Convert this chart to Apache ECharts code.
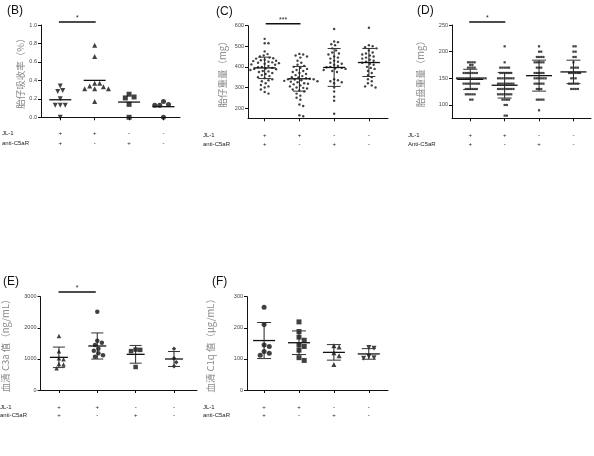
<!DOCTYPE html>
<html><head><meta charset="utf-8">
<script src="https://cdn.jsdelivr.net/npm/echarts@6/dist/echarts.min.js"></script>
<style>html,body{margin:0;padding:0;background:#fff}#c{width:594px;height:456px}</style>
</head><body><div id="c"></div>
<script>
// ---------- data ----------
const jlSigns = ['+', '+', '-', '-'];
const c5Signs = ['+', '-', '+', '-'];

// (B) 胎仔吸收率 (%)
const bG1 = [0.29, 0.28, 0.34, 0.20, 0.13, 0.13, 0.13, 0.00];
const bG2 = [0.78, 0.66, 0.37, 0.37, 0.34, 0.33, 0.31, 0.31, 0.31, 0.17];
const bG3 = [0.25, 0.22, 0.21, 0.14, 0.00];
const bG4 = [0.17, 0.14, 0.13, 0.13, 0.00];
const bMeans = [0.19, 0.40, 0.165, 0.115];
const bTicks = [0, 0.2, 0.4, 0.6, 0.8, 1.0];

// (C) 胎仔重量 (mg)
const cG1 = [536, 515, 515, 475, 462, 455, 450, 445, 442, 440, 435, 432, 430, 428, 425, 422, 420, 418, 415, 412, 410, 405, 400, 398, 395, 392, 390, 388, 385, 380, 378, 375, 370, 365, 360, 355, 350, 345, 340, 335, 330, 320, 312, 305, 300, 290, 278, 270];
const cG2 = [463, 460, 455, 450, 445, 430, 420, 410, 405, 400, 395, 390, 385, 380, 375, 370, 365, 360, 355, 350, 348, 345, 342, 340, 340, 338, 335, 332, 330, 328, 325, 320, 318, 315, 310, 305, 300, 298, 295, 290, 285, 280, 270, 260, 250, 240, 217, 210, 165, 160];
const cG3 = [584, 523, 520, 510, 505, 490, 480, 470, 465, 460, 450, 445, 440, 430, 425, 420, 415, 410, 405, 400, 398, 395, 392, 390, 385, 380, 375, 340, 335, 330, 325, 320, 300, 280, 255, 235, 172];
const cG4 = [590, 505, 500, 495, 490, 480, 470, 465, 460, 455, 450, 445, 440, 435, 430, 425, 420, 415, 410, 400, 395, 390, 380, 370, 360, 350, 340, 330, 320, 310, 305, 300];
const cMeans = [395, 342, 397, 421];
const cSDs = [52, 60, 92, 68];
const cTicks = [200, 300, 400, 500, 600];

// (D) 胎盘重量 (mg)
const dG1 = [180, 180, 180, 180, 175, 175, 170, 170, 170, 170, 160, 160, 160, 160, 160, 160, 160, 150, 150, 150, 150, 150, 150, 150, 150, 150, 150, 150, 150, 150, 150, 140, 140, 140, 140, 140, 140, 140, 140, 130, 130, 130, 130, 130, 130, 120, 120, 120, 120, 120, 110, 110];
const dG2 = [210, 180, 170, 170, 170, 170, 170, 160, 160, 160, 160, 160, 160, 150, 150, 150, 150, 150, 150, 150, 150, 140, 140, 140, 140, 140, 140, 140, 140, 130, 130, 130, 130, 130, 130, 130, 130, 120, 120, 120, 120, 120, 120, 120, 110, 110, 110, 110, 100, 100, 80, 80];
const dG3 = [210, 200, 200, 190, 190, 190, 190, 180, 180, 180, 180, 180, 170, 170, 170, 160, 160, 160, 160, 160, 150, 150, 150, 150, 150, 150, 140, 140, 140, 140, 140, 130, 130, 130, 110, 110, 110, 110, 90];
const dG4 = [210, 210, 200, 200, 190, 190, 180, 170, 170, 170, 170, 160, 160, 160, 160, 160, 160, 150, 150, 150, 140, 140, 140, 140, 140, 130, 130, 130, 130];
const dMeans = [148, 137, 155, 162];
const dSDs = [19, 24, 29, 22];
const dTicks = [100, 150, 200, 250];

// (E) 血清 C3a 值 (ng/mL)
const eG1 = [1740, 1250, 1020, 990, 840, 820, 700];
const eG2 = [2520, 1580, 1520, 1450, 1330, 1260, 1180, 1120, 1070];
const eG3 = [1300, 1290, 1250, 740];
const eG4 = [1330, 1020, 890, 760];
const eMeans = [1050, 1415, 1147, 997];
const eSDs = [330, 420, 285, 240];
const eTicks = [0, 1000, 2000, 3000];

// (F) 血清 C1q 值 (μg/mL)
const fG1 = [266, 211, 145, 140, 124, 118, 112];
const fG2 = [219, 188, 170, 160, 145, 140, 128, 104, 95];
const fG3 = [142, 138, 120, 110, 82];
const fG4 = [137, 134, 108, 104, 102];
const fMeans = [159, 152, 121, 116];
const fSDs = [58, 38, 25, 17];
const fTicks = [0, 100, 200, 300];

// ---------- layout / style config ----------
const TRI_DOWN = {s: 'triangle', r: 180};
const TRI_UP = {s: 'triangle', r: 0};
const SQ = {s: 'rect', r: 0};
const CIR = {s: 'circle', r: 0};
const DIA = {s: 'diamond', r: 0};

const panels = [
  {label: '(B)', lx: 7, ly: 12, grid: {left: 41, top: 25, width: 139, height: 92.3},
   xMin: -0.56, xMax: 3.48, yMin: 0, yMax: 1, yInt: 0.2, ticks: bTicks, fmt: v => v.toFixed(1),
   name: '胎仔吸收率（%）', nameGap: 10, groups: [bG1, bG2, bG3, bG4],
   sym: [TRI_DOWN, TRI_UP, SQ, CIR], size: 5, gap: 5,
   means: bMeans, sds: null, meanW: 22, capW: 0,
   sig: [-0.04, 1.03, 1.033, '*'], rowsX: 2, rowsY: [133, 143], names: ['JL-1', 'anti-C5aR'], margin: 11, lh: 10},
  {label: '(C)', lx: 216, ly: 13, grid: {left: 248, top: 25.7, width: 140, height: 92.6},
   xMin: -0.48, xMax: 3.55, yMin: 150, yMax: 600, yInt: 50, ticks: cTicks, fmt: v => String(v),
   name: '胎仔重量（mg）', nameGap: 21, groups: [cG1, cG2, cG3, cG4],
   sym: [CIR, CIR, CIR, CIR], size: 2.4, gap: 3.8,
   means: cMeans, sds: cSDs, meanW: 22, capW: 13,
   sig: [0.03, 1.03, 610, '***'], rowsX: 203, rowsY: [135, 144.5], names: ['JL-1', 'anti-C5aR'], margin: 12, lh: 9.5},
  {label: '(D)', lx: 417, ly: 12, grid: {left: 452, top: 25, width: 139, height: 93.3},
   xMin: -0.53, xMax: 3.51, yMin: 75, yMax: 250, yInt: 25, ticks: dTicks, fmt: v => String(v),
   name: '胎盘重量（mg）', nameGap: 27, groups: [dG1, dG2, dG3, dG4],
   sym: [SQ, SQ, SQ, SQ], size: 2.2, gap: 2.2,
   means: dMeans, sds: dSDs, meanW: 26, capW: 14,
   sig: [-0.03, 1.02, 255.6, '*'], rowsX: 408, rowsY: [135, 144.5], names: ['JL-1', 'Anti-C5aR'], margin: 12, lh: 9.5},
  {label: '(E)', lx: 3, ly: 283, grid: {left: 40, top: 296.7, width: 157, height: 93.3},
   xMin: -0.48, xMax: 3.6, yMin: 0, yMax: 3000, yInt: 1000, ticks: eTicks, fmt: v => String(v),
   name: '血清 C3a 值（ng/mL）', nameGap: 30, groups: [eG1, eG2, eG3, eG4],
   sym: [TRI_UP, CIR, SQ, DIA], size: 4.5, gap: 4.6,
   means: eMeans, sds: eSDs, meanW: 18, capW: 12,
   sig: [-0.01, 0.96, 3150, '*'], rowsX: 0, rowsY: [407, 415], names: ['JL-1', 'anti-C5aR'], margin: 13, lh: 8},
  {label: '(F)', lx: 212, ly: 283, grid: {left: 247, top: 296.7, width: 141, height: 93.3},
   xMin: -0.49, xMax: 3.55, yMin: 0, yMax: 300, yInt: 100, ticks: fTicks, fmt: v => String(v),
   name: '血清 C1q 值（μg/mL）', nameGap: 32, groups: [fG1, fG2, fG3, fG4],
   sym: [CIR, SQ, TRI_UP, TRI_DOWN], size: 5, gap: 5.2,
   means: fMeans, sds: fSDs, meanW: 22, capW: 14,
   sig: null, rowsX: 203, rowsY: [407, 415], names: ['JL-1', 'anti-C5aR'], margin: 13, lh: 8}
];

// column-scatter (beeswarm) layout: each point takes the x offset nearest the
// column centre where it does not overlap an already placed point
function beeswarm(vals, gx, gap, pxX, pxY) {
  const sorted = vals.slice().sort((a, b) => b - a);
  const placed = [], out = [];
  sorted.forEach(v => {
    const y = v * pxY;
    let off = 0;
    for (let k = 0; k < 400; k++) {
      const cand = (k % 2 === 1 ? 1 : -1) * Math.ceil(k / 2) * gap * 0.25;
      if (placed.every(q => (q[0] - cand) ** 2 + (q[1] - y) ** 2 >= gap * gap * 0.98)) { off = cand; break; }
    }
    placed.push([off, y]);
    out.push([gx + off / pxX, v]);
  });
  return out;
}

const FONT = 'Liberation Sans, Arial, sans-serif';
const grids = [], xAxes = [], yAxes = [], series = [], graphics = [];

panels.forEach((p, pi) => {
  grids.push(p.grid);
  const pxX = p.grid.width / (p.xMax - p.xMin);
  const pxY = p.grid.height / (p.yMax - p.yMin);
  xAxes.push({
    type: 'value', gridIndex: pi, min: p.xMin, max: p.xMax,
    axisLine: {onZero: false, lineStyle: {color: '#111', width: 1}},
    splitLine: {show: false},
    axisTick: {customValues: [0, 1, 2, 3], length: 3, lineStyle: {color: '#111'}},
    axisLabel: {customValues: [0, 1, 2, 3], margin: p.margin, fontSize: 6, lineHeight: p.lh,
      color: '#222', fontFamily: FONT,
      formatter: v => jlSigns[Math.round(v)] + '\n' + c5Signs[Math.round(v)]}
  });
  yAxes.push({
    type: 'value', gridIndex: pi, min: p.yMin, max: p.yMax, interval: p.yInt,
    axisLine: {show: true, onZero: false, lineStyle: {color: '#111', width: 1}},
    splitLine: {show: false},
    axisTick: {show: true, customValues: p.ticks, length: 3, lineStyle: {color: '#111'}},
    axisLabel: {customValues: p.ticks, formatter: p.fmt, fontSize: 5.5, color: '#444',
      margin: 4, fontFamily: FONT},
    name: p.name, nameLocation: 'middle', nameGap: p.nameGap,
    nameTextStyle: {color: '#8a8a8a', fontSize: 9.5, fontFamily: 'Noto Sans CJK SC'}
  });

  // points
  p.groups.forEach((g, gi) => {
    series.push({
      type: 'scatter', xAxisIndex: pi, yAxisIndex: pi,
      data: beeswarm(g, gi, p.gap, pxX, pxY),
      symbol: p.sym[gi].s, symbolRotate: p.sym[gi].r, symbolSize: p.size,
      itemStyle: {color: '#111'}, silent: true, z: 3
    });
  });

  // mean ± SD
  const sds = p.sds;
  series.push({
    type: 'custom', xAxisIndex: pi, yAxisIndex: pi, z: 4, silent: true, clip: false,
    data: p.means.map((m, i) => [i, m, sds ? sds[i] : 0]),
    renderItem: (params, api) => {
      const x = api.value(0), m = api.value(1), s = api.value(2);
      const pm = api.coord([x, m]);
      const ch = [{type: 'line', shape: {x1: pm[0] - p.meanW / 2, y1: pm[1], x2: pm[0] + p.meanW / 2, y2: pm[1]},
        style: {stroke: '#111', lineWidth: 1.3}}];
      if (s > 0) {
        const pu = api.coord([x, m + s]), pl = api.coord([x, m - s]);
        ch.push({type: 'line', shape: {x1: pu[0], y1: pu[1], x2: pl[0], y2: pl[1]}, style: {stroke: '#222', lineWidth: 1}});
        ch.push({type: 'line', shape: {x1: pu[0] - p.capW / 2, y1: pu[1], x2: pu[0] + p.capW / 2, y2: pu[1]}, style: {stroke: '#333', lineWidth: 1}});
        ch.push({type: 'line', shape: {x1: pl[0] - p.capW / 2, y1: pl[1], x2: pl[0] + p.capW / 2, y2: pl[1]}, style: {stroke: '#333', lineWidth: 1}});
      }
      return {type: 'group', children: ch};
    }
  });

  // significance bar
  if (p.sig) {
    series.push({
      type: 'custom', xAxisIndex: pi, yAxisIndex: pi, z: 4, silent: true, clip: false,
      data: [[p.sig[0], p.sig[1], p.sig[2]]],
      renderItem: (params, api) => {
        const a = api.coord([api.value(0), api.value(2)]);
        const b = api.coord([api.value(1), api.value(2)]);
        return {type: 'group', children: [
          {type: 'line', shape: {x1: a[0], y1: a[1], x2: b[0], y2: b[1]}, style: {stroke: '#111', lineWidth: 1.5}},
          {type: 'text', x: (a[0] + b[0]) / 2, y: a[1] - 0.5,
            style: {text: p.sig[3], fontSize: 7, fill: '#222', align: 'center', verticalAlign: 'bottom', font: '7px ' + FONT}}
        ]};
      }
    });
  }

  graphics.push({type: 'text', left: p.lx, top: p.ly - 7,
    style: {text: p.label, fontSize: 12, fill: '#111', fontFamily: FONT}});
  p.names.forEach((n, k) => graphics.push({type: 'text', x: p.rowsX, y: p.rowsY[k],
    style: {text: n, fontSize: 6, fill: '#222', fontFamily: FONT, verticalAlign: 'middle'}}));
});

const chart = echarts.init(document.getElementById('c'), null, {renderer: 'canvas'});
chart.setOption({
  backgroundColor: '#fff', animation: false,
  grid: grids, xAxis: xAxes, yAxis: yAxes, series: series, graphic: graphics
});
</script></body></html>
